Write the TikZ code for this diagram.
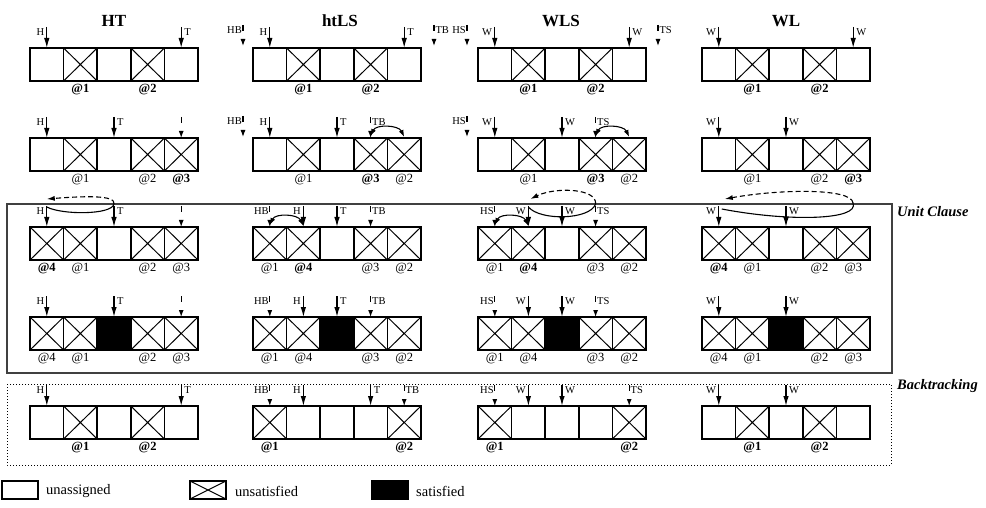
\documentclass[tikz,border=0pt]{standalone}
\usepackage{fontspec}
\setmainfont{Liberation Serif}
\usetikzlibrary{arrows.meta}
\newcommand\mkrow[4]{\foreach \ct [count=\ci] in {#4} {\node[\ct] (#1\ci) at ({#2+(\ci-1)*33.6},#3) {};}}
\newcommand\ptL[3]{\draw[#1] ([yshift=21pt]#2.north) -- (#2.north);\node[plab,anchor=east] (L#2) at ([xshift=-2pt,yshift=16pt]#2.north) {#3};}
\newcommand\ptR[3]{\draw[#1] ([yshift=21pt]#2.north) -- (#2.north);\node[plab,anchor=west] (L#2) at ([xshift=2.5pt,yshift=16pt]#2.north) {#3};}
\newcommand\dpL[2]{\draw[dptr] ([yshift=21pt]#1.north) -- (#1.north);\node[plab,anchor=east] (L#1) at ([xshift=-0.5pt,yshift=16pt]#1.north) {#2};}
\newcommand\dpR[2]{\draw[dptr] ([yshift=21pt]#1.north) -- (#1.north);\node[plab,anchor=west] (L#1) at ([xshift=0.8pt,yshift=16pt]#1.north) {#2};}
\newcommand\ptN[2]{\draw[#1] ([yshift=21pt]#2.north) -- (#2.north);}
\newcommand\atlab[2]{\node[alab] (A#1) at ([yshift=-9pt]#1.south) {#2};}
\newcommand\atlabb[2]{\node[alabb] (A#1) at ([yshift=-9pt]#1.south) {#2};}
\newcommand\swp[2]{\draw[swapline] ([yshift=2pt]#1.north) to[out=65,in=115] ([yshift=1pt]#2.north);}
\begin{document}
\begin{tikzpicture}[x=1pt,y=-1pt,
 cellbox/.style={draw, line width=1.6pt, minimum width=33.6pt, minimum height=33pt, inner sep=0pt, outer sep=0pt, anchor=north west},
 cE/.style={cellbox},
 cU/.style={cellbox, path picture={\draw[line width=1pt] (path picture bounding box.north west)--(path picture bounding box.south east) (path picture bounding box.north east)--(path picture bounding box.south west);}},
 cS/.style={cellbox, fill=black},
 ptr/.style={-{Latex[length=10pt,width=5.5pt]}, line width=1.2pt},
 dptr/.style={-{Latex[length=7pt,width=5pt]}, line width=1.1pt, dash pattern=on 6pt off 8pt},
 plab/.style={font=\fontsize{10.5}{12}\selectfont, inner sep=0.5pt},
 alab/.style={font=\fontsize{12.5}{14}\selectfont, inner sep=0pt},
 alabb/.style={font=\fontsize{12.5}{14}\selectfont\bfseries, inner sep=0pt},
 swapline/.style={{Latex[length=7pt,width=5pt]}-{Latex[length=7pt,width=5pt]}, line width=1.1pt},
 loopline/.style={line width=1.1pt},
 dloop/.style={-{Latex[length=8pt,width=5pt]}, line width=1.1pt, dash pattern=on 5pt off 3pt},
 pt0/.style={inner sep=0pt, outer sep=0pt, minimum size=0pt},
 ttl/.style={font=\fontsize{17}{20}\selectfont\bfseries},
 side/.style={font=\fontsize{14.5}{17}\selectfont\bfseries\itshape, anchor=west, inner sep=0pt},
 legtxt/.style={font=\fontsize{14.5}{16}\selectfont, anchor=west, inner sep=0pt}
]
\fill[white] (0,0) rectangle (986,508);
\useasboundingbox (0,0) rectangle (986,508);

% frames
\draw[line width=1.2pt, black!75] (7,204) rectangle (892,373);
\draw[dotted, line width=1pt] (7,384) rectangle (891,465);
\node[side] (uc) at (897,212) {Unit Clause};
\node[side] (bt) at (897,386) {Backtracking};

% titles
\node[ttl] (tA) at (114,21) {HT};
\node[ttl] (tB) at (340,21) {htLS};
\node[ttl] (tC) at (561,21) {WLS};
\node[ttl] (tD) at (786,21) {WL};

% ---------- Row 1 ----------
\mkrow{a1-}{30}{48}{cE,cU,cE,cU,cE}
\mkrow{b1-}{253}{48}{cE,cU,cE,cU,cE}
\mkrow{c1-}{478}{48}{cE,cU,cE,cU,cE}
\mkrow{d1-}{702}{48}{cE,cU,cE,cU,cE}
\node[pt0] (hb1) at (243,46) {};
\node[pt0] (tb1) at (434,46) {};
\node[pt0] (hs1) at (467,46) {};
\node[pt0] (ts1) at (658,46) {};
\ptL{ptr}{a1-1}{H}\ptR{ptr}{a1-5}{T}
\dpL{hb1}{HB}\ptL{ptr}{b1-1}{H}\ptR{ptr}{b1-5}{T}\dpR{tb1}{TB}
\dpL{hs1}{HS}\ptL{ptr}{c1-1}{W}\ptR{ptr}{c1-5}{W}\dpR{ts1}{TS}
\ptL{ptr}{d1-1}{W}\ptR{ptr}{d1-5}{W}
\atlabb{a1-2}{@1}\atlabb{a1-4}{@2}
\atlabb{b1-2}{@1}\atlabb{b1-4}{@2}
\atlabb{c1-2}{@1}\atlabb{c1-4}{@2}
\atlabb{d1-2}{@1}\atlabb{d1-4}{@2}

% ---------- Row 2 ----------
\mkrow{a2-}{30}{138}{cE,cU,cE,cU,cU}
\mkrow{b2-}{253}{138}{cE,cU,cE,cU,cU}
\mkrow{c2-}{478}{138}{cE,cU,cE,cU,cU}
\mkrow{d2-}{702}{138}{cE,cU,cE,cU,cU}
\node[pt0] (hb2) at (243,137) {};
\node[pt0] (hs2) at (467,137) {};
\ptL{ptr}{a2-1}{H}\ptR{ptr}{a2-3}{T}\ptN{dptr}{a2-5}
\dpL{hb2}{HB}\ptL{ptr}{b2-1}{H}\ptR{ptr}{b2-3}{T}\dpR{b2-4}{TB}
\swp{b2-4}{b2-5}
\dpL{hs2}{HS}\ptL{ptr}{c2-1}{W}\ptR{ptr}{c2-3}{W}\dpR{c2-4}{TS}
\swp{c2-4}{c2-5}
\ptL{ptr}{d2-1}{W}\ptR{ptr}{d2-3}{W}
\atlab{a2-2}{@1}\atlab{a2-4}{@2}\atlabb{a2-5}{@3}
\atlab{b2-2}{@1}\atlabb{b2-4}{@3}\atlab{b2-5}{@2}
\atlab{c2-2}{@1}\atlabb{c2-4}{@3}\atlab{c2-5}{@2}
\atlab{d2-2}{@1}\atlab{d2-4}{@2}\atlabb{d2-5}{@3}

% ---------- Row 3 ----------
\mkrow{a3-}{30}{227}{cU,cU,cE,cU,cU}
\mkrow{b3-}{253}{227}{cU,cU,cE,cU,cU}
\mkrow{c3-}{478}{227}{cU,cU,cE,cU,cU}
\mkrow{d3-}{702}{227}{cU,cU,cE,cU,cU}
\ptL{ptr}{a3-1}{H}\ptR{ptr}{a3-3}{T}\ptN{dptr}{a3-5}
\dpL{b3-1}{HB}\ptL{ptr}{b3-2}{H}\ptR{ptr}{b3-3}{T}\dpR{b3-4}{TB}
\swp{b3-1}{b3-2}
\dpL{c3-1}{HS}\ptL{ptr}{c3-2}{W}\ptR{ptr}{c3-3}{W}\dpR{c3-4}{TS}
\swp{c3-1}{c3-2}
\ptL{ptr}{d3-1}{W}\ptR{ptr}{d3-3}{W}
% loops
\draw[loopline] ([yshift=20pt]a3-1.north) .. controls (62,215) and (112,215) .. ([yshift=23pt]a3-3.north);
\draw[dloop] ([yshift=23pt]a3-3.north) .. controls (116,195) and (85,196) .. ([yshift=28pt]a3-1.north);
\draw[loopline] ([yshift=20pt]c3-2.north) .. controls (540,221) and (590,220) .. ([yshift=23pt]c3-4.north);
\draw[dloop] ([yshift=23pt]c3-4.north) .. controls (597,188) and (555,187) .. ([xshift=2pt,yshift=28pt]c3-2.north);
\coordinate (wlturn) at (853,203);
\draw[loopline] ([xshift=3pt,yshift=18pt]d3-1.north) .. controls (790,222) and (860,220) .. (wlturn);
\draw[dloop] (wlturn) .. controls (852,188) and (780,189) .. ([xshift=6pt,yshift=28pt]d3-1.north);
\atlabb{a3-1}{@4}\atlab{a3-2}{@1}\atlab{a3-4}{@2}\atlab{a3-5}{@3}
\atlab{b3-1}{@1}\atlabb{b3-2}{@4}\atlab{b3-4}{@3}\atlab{b3-5}{@2}
\atlab{c3-1}{@1}\atlabb{c3-2}{@4}\atlab{c3-4}{@3}\atlab{c3-5}{@2}
\atlabb{d3-1}{@4}\atlab{d3-2}{@1}\atlab{d3-4}{@2}\atlab{d3-5}{@3}

% ---------- Row 4 ----------
\mkrow{a4-}{30}{317}{cU,cU,cS,cU,cU}
\mkrow{b4-}{253}{317}{cU,cU,cS,cU,cU}
\mkrow{c4-}{478}{317}{cU,cU,cS,cU,cU}
\mkrow{d4-}{702}{317}{cU,cU,cS,cU,cU}
\ptL{ptr}{a4-1}{H}\ptR{ptr}{a4-3}{T}\ptN{dptr}{a4-5}
\dpL{b4-1}{HB}\ptL{ptr}{b4-2}{H}\ptR{ptr}{b4-3}{T}\dpR{b4-4}{TB}
\dpL{c4-1}{HS}\ptL{ptr}{c4-2}{W}\ptR{ptr}{c4-3}{W}\dpR{c4-4}{TS}
\ptL{ptr}{d4-1}{W}\ptR{ptr}{d4-3}{W}
\atlab{a4-1}{@4}\atlab{a4-2}{@1}\atlab{a4-4}{@2}\atlab{a4-5}{@3}
\atlab{b4-1}{@1}\atlab{b4-2}{@4}\atlab{b4-4}{@3}\atlab{b4-5}{@2}
\atlab{c4-1}{@1}\atlab{c4-2}{@4}\atlab{c4-4}{@3}\atlab{c4-5}{@2}
\atlab{d4-1}{@4}\atlab{d4-2}{@1}\atlab{d4-4}{@2}\atlab{d4-5}{@3}

% ---------- Row 5 ----------
\mkrow{a5-}{30}{406}{cE,cU,cE,cU,cE}
\mkrow{b5-}{253}{406}{cU,cE,cE,cE,cU}
\mkrow{c5-}{478}{406}{cU,cE,cE,cE,cU}
\mkrow{d5-}{702}{406}{cE,cU,cE,cU,cE}
\ptL{ptr}{a5-1}{H}\ptR{ptr}{a5-5}{T}
\dpL{b5-1}{HB}\ptL{ptr}{b5-2}{H}\ptR{ptr}{b5-4}{T}\dpR{b5-5}{TB}
\dpL{c5-1}{HS}\ptL{ptr}{c5-2}{W}\ptR{ptr}{c5-3}{W}\dpR{c5-5}{TS}
\ptL{ptr}{d5-1}{W}\ptR{ptr}{d5-3}{W}
\atlabb{a5-2}{@1}\atlabb{a5-4}{@2}
\atlabb{b5-1}{@1}\atlabb{b5-5}{@2}
\atlabb{c5-1}{@1}\atlabb{c5-5}{@2}
\atlabb{d5-2}{@1}\atlabb{d5-4}{@2}

% ---------- Legend ----------
\node[cE, minimum width=36pt, minimum height=18pt] (lg1) at (2,481) {};
\node[legtxt] (lt1) at (46,491) {unassigned};
\node[cU, minimum width=36pt, minimum height=18pt] (lg2) at (190,481) {};
\node[legtxt] (lt2) at (235,491) {unsatisfied};
\node[cS, minimum width=36pt, minimum height=18pt] (lg3) at (372,481) {};
\node[legtxt] (lt3) at (416,491) {satisfied};
\end{tikzpicture}
\end{document}
